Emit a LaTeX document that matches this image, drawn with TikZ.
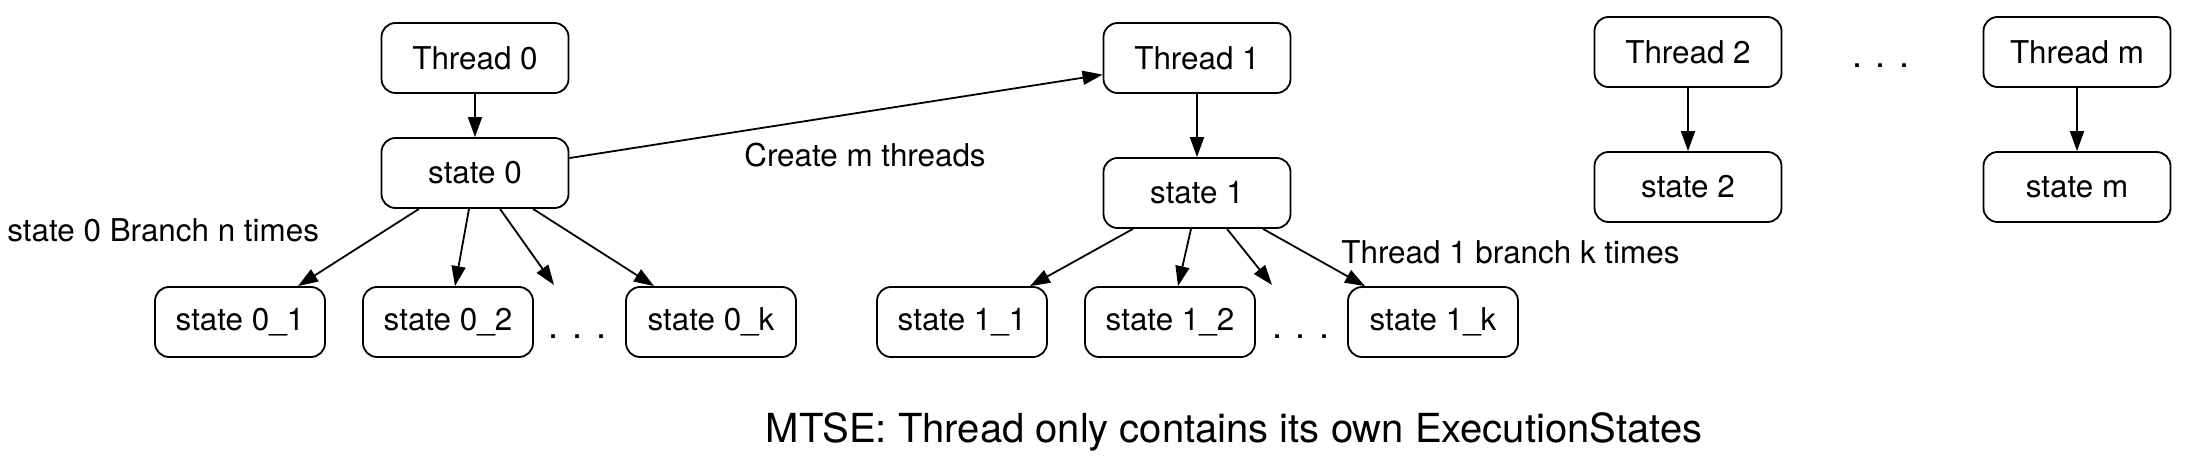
\documentclass[tikz,border=0pt]{standalone}
\usepackage{fontspec}
\setmainfont{TeX Gyre Heros}
\usepackage{tikz}
\usetikzlibrary{arrows.meta, positioning, calc}

\begin{document}
\begin{tikzpicture}[
    x=0.5pt, y=-0.5pt,
    thread node/.style = {
        rectangle,
        rounded corners=7pt,
        draw=black,
        line width=0.9pt,
        minimum width=93.5pt,
        minimum height=35pt,
        inner sep=2pt,
        font=\fontsize{15.7}{18}\selectfont
    },
    leaf node/.style = {thread node, minimum width=85pt},
    plain text/.style = {font=\fontsize{15.7}{18}\selectfont, inner sep=0pt},
    gap dots/.style = {font=\fontsize{18}{20}\selectfont, inner sep=0pt, anchor=base},
    spawn ptr/.style = {-{Triangle[length=10pt, width=7pt]}, line width=0.9pt}
]
\useasboundingbox (0,0) rectangle (2190,460);

\node [thread node] (thread0) at (475,58) {Thread 0};
\node [thread node] (state0) at (475,173) {state 0};
\node [leaf node] (leaf01) at (240,322) {state 0\_1};
\node [leaf node] (leaf02) at (448,322) {state 0\_2};
\node [leaf node] (leaf0k) at (711,322) {state 0\_k};
\node [gap dots] (dots0) at (578,338) {.\hspace{7pt}.\hspace{7pt}.};

\node [thread node] (thread1) at (1197,58) {Thread 1};
\node [thread node] (state1) at (1197,193) {state 1};
\node [leaf node] (leaf11) at (962,322) {state 1\_1};
\node [leaf node] (leaf12) at (1170,322) {state 1\_2};
\node [leaf node] (leaf1k) at (1433,322) {state 1\_k};
\node [gap dots] (dots1) at (1301,338) {.\hspace{7pt}.\hspace{7pt}.};

\node [thread node] (thread2) at (1688,52) {Thread 2};
\node [thread node] (state2) at (1688,187) {state 2};
\node [gap dots] (dotsT) at (1881,68) {.\hspace{7pt}.\hspace{7pt}.};
\node [thread node] (threadm) at (2077,52) {Thread m};
\node [thread node] (statem) at (2077,187) {state m};

\node [plain text, anchor=west] (branch0) at (7,230) {state 0 Branch n times};
\node [plain text] (create) at (865,155) {Create m threads};
\node [plain text, anchor=west] (branch1) at (1341,252) {Thread 1 branch k times};
\node [font=\fontsize{20}{24}\selectfont, inner sep=0pt] (caption) at (1234,432)
    {MTSE: Thread only contains its own ExecutionStates};

\coordinate (end0) at (554,285);
\coordinate (end1) at (1272,285);

\draw[spawn ptr] (thread0) -- (state0);
\draw[spawn ptr] (thread1) -- (state1);
\draw[spawn ptr] (thread2) -- (state2);
\draw[spawn ptr] (threadm) -- (statem);
\draw[spawn ptr] (state0.9) -- (thread1.190);

\draw[spawn ptr] ($(state0.south)+(-56,0)$) -- ($(leaf01.north)+(58,0)$);
\draw[spawn ptr] ($(state0.south)+(-6,0)$) -- ($(leaf02.north)+(7,0)$);
\draw[spawn ptr] ($(state0.south)+(25,0)$) -- (end0);
\draw[spawn ptr] ($(state0.south)+(58,0)$) -- ($(leaf0k.north)+(-57,0)$);

\draw[spawn ptr] ($(state1.south)+(-64,0)$) -- ($(leaf11.north)+(68,0)$);
\draw[spawn ptr] ($(state1.south)+(-6,0)$) -- ($(leaf12.north)+(8,0)$);
\draw[spawn ptr] ($(state1.south)+(30,0)$) -- (end1);
\draw[spawn ptr] ($(state1.south)+(66,0)$) -- ($(leaf1k.north)+(-68,0)$);

\end{tikzpicture}
\end{document}
